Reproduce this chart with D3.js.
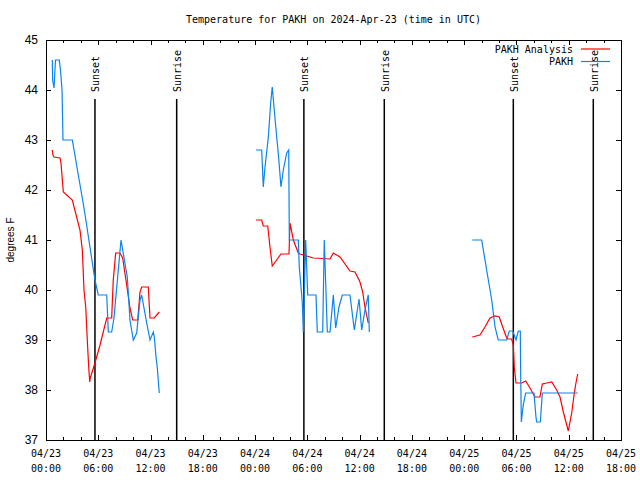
<!DOCTYPE html>
<html><head><meta charset="utf-8">
<script src="https://cdn.jsdelivr.net/npm/d3@7"></script>
<style>
html,body{margin:0;padding:0;background:#fff;}
svg{display:block;}
</style></head>
<body><svg id="chart" width="640" height="480"></svg>
<script>
// ---- data (hours since 2024-04-23 00:00 UTC) ----
const anaHours = [0.72,0.80,0.92,1.61,1.72,1.99,3.02,3.90,4.17,4.36,4.56,4.74,4.90,5.02,5.08,5.62,6.20,6.97,7.54,7.72,8.00,8.49,8.80,9.26,9.64,9.95,10.53,10.79,10.98,11.74,11.94,12.43,13.00,
  null,
  24.10,24.76,24.94,25.45,25.71,25.97,26.97,27.89,28.01,28.39,28.96,29.15,30.68,32.60,32.98,33.75,34.89,35.47,36.04,36.35,36.61,36.99,
  null,
  48.93,49.81,50.39,50.96,51.54,52.03,52.42,52.88,53.06,53.45,53.64,53.75,53.95,54.60,55.06,55.55,56.13,56.70,56.97,57.47,58.05,58.62,59.00,59.38,59.95,60.34,60.64,60.83,61.03];
const anaTemps = [42.8,42.7,42.66,42.64,42.54,41.96,41.8,41.2,40.8,40.0,39.66,39.0,38.46,38.16,38.24,38.54,38.9,39.44,39.44,40.2,40.74,40.74,40.64,40.1,39.64,39.4,39.4,39.96,40.06,40.06,39.44,39.44,39.56,
  null,
  41.4,41.4,41.28,41.28,40.86,40.48,40.72,40.72,41.34,41.0,40.74,40.72,40.64,40.62,40.74,40.66,40.38,40.36,40.16,39.96,39.66,39.34,
  null,
  39.06,39.1,39.26,39.44,39.48,39.46,39.26,39.04,39.02,39.02,38.9,38.46,38.14,38.14,38.18,38.04,37.86,37.86,38.12,38.14,38.16,38.0,37.86,37.56,37.18,37.54,37.94,38.14,38.32];

const obsHours = [0.72,0.76,0.92,1.09,1.53,1.66,1.84,1.95,3.02,4.40,5.62,6.00,6.97,7.15,7.54,7.80,8.61,9.33,9.64,10.02,10.41,10.79,10.98,11.56,11.94,12.32,12.43,12.63,12.78,13.00,
  null,
  24.10,24.76,24.94,25.14,25.52,25.79,25.97,26.20,26.48,26.66,26.97,27.24,27.63,27.86,27.93,28.96,29.07,29.27,29.42,29.53,29.81,30.04,30.99,31.14,31.76,31.94,32.29,32.60,32.98,33.25,33.63,34.01,34.89,35.39,35.93,36.24,36.61,36.99,37.11,
  null,
  48.93,50.01,50.58,51.16,51.54,51.91,52.88,53.18,53.57,53.95,54.21,54.44,54.49,54.56,54.78,55.06,56.01,56.24,56.32,56.74,56.97,61.03];
const obsTemps = [44.6,44.2,44.04,44.6,44.6,44.4,44.0,43.0,43.0,41.6,40.2,39.9,39.9,39.16,39.16,39.44,41.0,40.26,39.4,39.0,39.14,39.8,39.9,39.34,39.0,39.16,39.06,38.66,38.44,37.94,
  null,
  42.8,42.8,42.06,42.46,43.06,43.74,44.06,43.6,43.06,42.74,42.06,42.4,42.74,42.8,41.0,41.0,40.46,40.06,39.74,39.16,41.0,39.9,39.9,39.16,39.16,41.0,39.16,39.16,39.9,39.24,39.66,39.9,39.9,39.2,39.82,39.2,39.6,39.9,39.16,
  null,
  41.0,41.0,40.4,39.8,39.26,39.0,39.0,39.18,39.18,39.0,39.18,39.18,38.26,37.36,37.7,37.94,37.94,37.46,37.36,37.36,37.94,37.94];

const sunsetHours = [5.62, 29.60, 53.64];
const sunriseHours = [15.00, 38.83, 62.82];
const yTicks = [37,38,39,40,41,42,43,44,45];
const xTickHours = [0,6,12,18,24,30,36,42,48,54,60,66];
const seriesNames = ["PAKH Analysis", "PAKH"];
const seriesColors = ["#ff0000", "#0a84f0"];
const titleText = "Temperature for PAKH on 2024-Apr-23 (time in UTC)";
const yLabel = "degrees F";

// ---- drawing ----
const startMs = Date.UTC(2024, 3, 23);
const toDate = h => new Date(startMs + h * 3600e3);
const svg = d3.select("#chart");
const L = 46, R = 621, T = 40, B = 440;
const x = d3.scaleUtc().domain([toDate(0), toDate(66)]).range([L, R]);
const y = d3.scaleLinear().domain([37, 45]).range([B, T]);
const mono = "'DejaVu Sans Mono', monospace";
const sans = "'Liberation Sans', Arial, sans-serif";

svg.append("rect").attr("width", 640).attr("height", 480).attr("fill", "#fff");

// ticks
const majorDates = xTickHours.map(toDate);
const minorDates = d3.range(0, 67, 2).filter(h => h % 6 !== 0).map(toDate);
function axisG(axis) {
  const g = svg.append("g");
  return g;
}
const gB = svg.append("g").attr("transform", `translate(0,${B})`)
  .call(d3.axisBottom(x).tickValues(majorDates).tickSize(-5).tickFormat(""));
const gBm = svg.append("g").attr("transform", `translate(0,${B})`)
  .call(d3.axisBottom(x).tickValues(minorDates).tickSize(-3).tickFormat(""));
const gT = svg.append("g").attr("transform", `translate(0,${T})`)
  .call(d3.axisTop(x).tickValues(majorDates).tickSize(-5).tickFormat(""));
const gTm = svg.append("g").attr("transform", `translate(0,${T})`)
  .call(d3.axisTop(x).tickValues(minorDates).tickSize(-3).tickFormat(""));
const gL = svg.append("g").attr("transform", `translate(${L},0)`)
  .call(d3.axisLeft(y).tickValues(yTicks).tickSize(-5).tickFormat(""));
const gR = svg.append("g").attr("transform", `translate(${R},0)`)
  .call(d3.axisRight(y).tickValues(yTicks).tickSize(-5).tickFormat(""));
[gB, gBm, gT, gTm, gL, gR].forEach(g => {
  g.select(".domain").remove();
  g.selectAll("line").attr("stroke", "#000").attr("shape-rendering", "crispEdges");
});

// y tick labels
svg.append("g").selectAll("text").data(yTicks).join("text")
  .attr("x", 38).attr("y", d => y(d)).attr("dy", "0.35em")
  .attr("text-anchor", "end").attr("font-family", sans).attr("font-size", 12)
  .text(d => d);

// x tick labels
const fmtDay = d3.utcFormat("%m/%d"), fmtTime = d3.utcFormat("%H:%M");
const xl = svg.append("g").attr("font-family", mono).attr("font-size", 10).attr("text-anchor", "middle");
majorDates.forEach(d => {
  xl.append("text").attr("x", x(d)).attr("y", 457).text(fmtDay(d));
  xl.append("text").attr("x", x(d)).attr("y", 472).text(fmtTime(d));
});

// border
svg.append("rect").attr("x", L).attr("y", T).attr("width", R - L).attr("height", B - T)
  .attr("fill", "none").attr("stroke", "#000").attr("shape-rendering", "crispEdges");

// title & y label
svg.append("text").attr("x", (L + R) / 2).attr("y", 23).attr("text-anchor", "middle")
  .attr("font-family", mono).attr("font-size", 10).text(titleText);
svg.append("text").attr("transform", `translate(14,${(T + B) / 2}) rotate(-90)`)
  .attr("text-anchor", "middle").attr("font-family", sans).attr("font-size", 10).text(yLabel);

// sun lines
function sunMarks(hours, label) {
  hours.forEach(h => {
    const px = x(toDate(h));
    svg.append("line").attr("x1", px).attr("x2", px).attr("y1", 99).attr("y2", B)
      .attr("stroke", "#000").attr("stroke-width", 1.5);
    svg.append("text").attr("transform", `translate(${px + 4.5},92) rotate(-90)`)
      .attr("font-family", mono).attr("font-size", 10).text(label);
  });
}
sunMarks(sunsetHours, "Sunset");
sunMarks(sunriseHours, "Sunrise");

// series
function pts(hs, vs) { return hs.map((h, i) => ({ h, v: vs[i] })); }
const line = d3.line().defined(d => d.h != null && d.v != null)
  .x(d => x(toDate(d.h))).y(d => y(d.v));
svg.append("path").datum(pts(anaHours, anaTemps)).attr("d", line)
  .attr("fill", "none").attr("stroke", seriesColors[0]).attr("stroke-width", 1.2);
svg.append("path").datum(pts(obsHours, obsTemps)).attr("d", line)
  .attr("fill", "none").attr("stroke", seriesColors[1]).attr("stroke-width", 1.2);

// legend
seriesNames.forEach((n, i) => {
  const ly = 49 + i * 12.5;
  svg.append("text").attr("x", 573).attr("y", ly).attr("dy", "0.35em").attr("text-anchor", "end")
    .attr("font-family", mono).attr("font-size", 10).text(n);
  svg.append("line").attr("x1", 581).attr("x2", 610).attr("y1", ly).attr("y2", ly)
    .attr("stroke", seriesColors[i]).attr("stroke-width", 1.2);
});
</script></body></html>
